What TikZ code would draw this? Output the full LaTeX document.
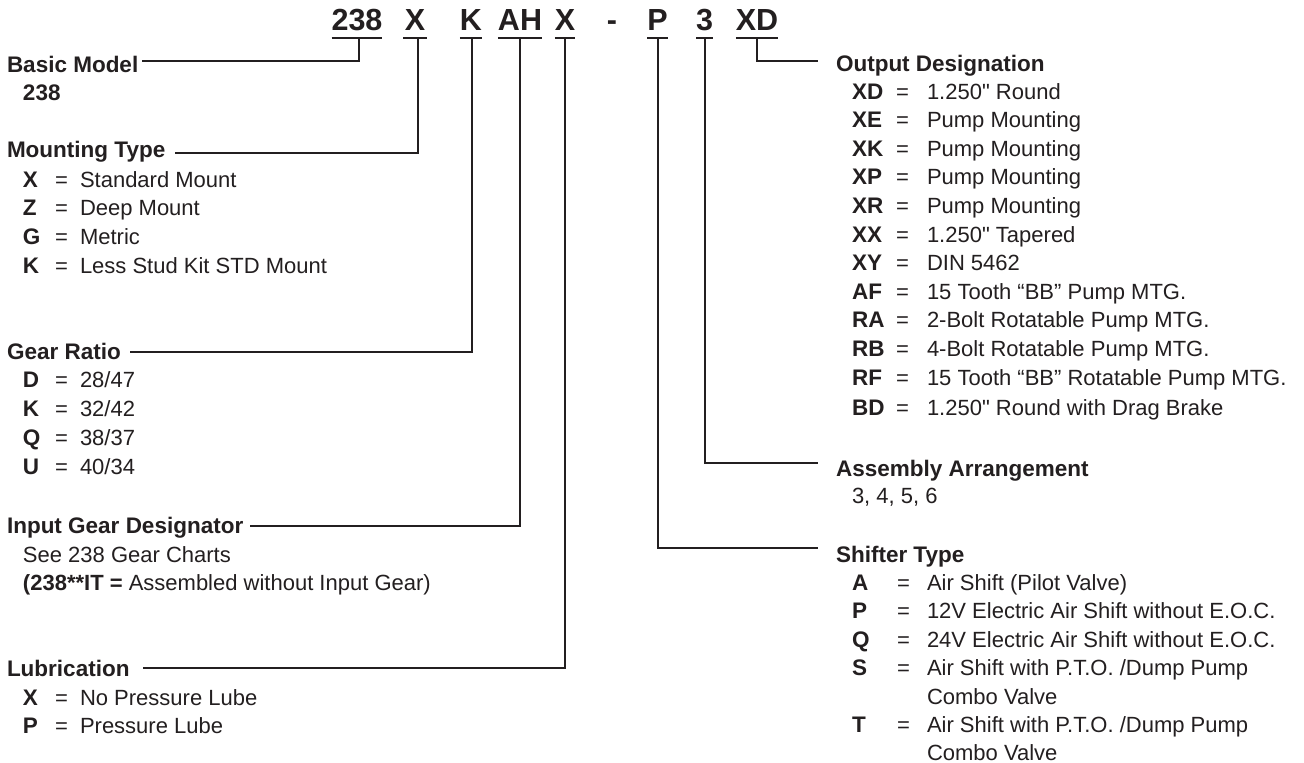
\documentclass[tikz,border=0pt]{standalone}
\usepackage{fontspec}
\newfontfamily\lsans{Liberation Sans}
\definecolor{ink}{HTML}{231F20}
\newcommand\dsf{\lsans\fontsize{22}{26}\selectfont}
\newcommand\hdf{\lsans\fontsize{22.5}{26}\selectfont\bfseries}
\newcommand\cdf{\lsans\fontsize{30.5}{34}\selectfont\bfseries}
\tikzset{
  txt/.style={inner sep=0pt, outer sep=0pt, anchor=base west, text=ink},
  hd/.style={txt, font=\hdf},
  ds/.style={txt, font=\dsf},
  ky/.style={txt, font=\hdf},
  code/.style={inner sep=0pt, outer sep=0pt, anchor=base, text=ink, font=\cdf},
  bar/.style={draw=ink, line width=2.6pt},
  ln/.style={draw=ink, line width=2pt},
}
\newcommand\entry[7]{%
  \node[ky] (#1k) at (#2,#5) {#6};
  \node[ds] (#1e) at (#3,#5) {=};
  \node[ds] (#1d) at (#4,#5) {#7};}
\begin{document}
\begin{tikzpicture}[x=1pt,y=-1pt]
\fill[white] (0,0) rectangle (1304,763);
\useasboundingbox (0,0) rectangle (1304,763);

% ---- code line ----
\node[code, minimum width=50pt] (c238) at (357,30) {238};
\node[code, minimum width=24pt] (cX1) at (415,30) {X};
\node[code, minimum width=22pt] (cK) at (471,30) {K};
\node[code, minimum width=26pt] (cAH) at (520,30) {AH};
\node[code, minimum width=20pt] (cX2) at (565,30) {X};
\node[code] (cdash) at (612,30) {-};
\node[code, minimum width=19pt] (cP) at (657.5,30) {P};
\node[code, minimum width=15pt] (c3) at (704.5,30) {3};
\node[code, minimum width=40pt] (cXD) at (757,30) {XD};

\foreach \n in {c238,cX1,cK,cAH,cX2,cP,c3,cXD}
  \draw[bar] (\n.south west |- 0,38) -- (\n.south east |- 0,38);

% ---- left column ----
\node[hd] (bm) at (7,72) {Basic Model};
\node[hd] (bm1) at (23,100) {238};

\node[hd] (mt) at (7,157) {Mounting Type};
\entry{mtX}{23}{55}{80}{187}{X}{Standard Mount}
\entry{mtZ}{23}{55}{80}{215.5}{Z}{Deep Mount}
\entry{mtG}{23}{55}{80}{244}{G}{Metric}
\entry{mtK}{23}{55}{80}{273}{K}{Less Stud Kit STD Mount}

\node[hd] (gr) at (7,359) {Gear Ratio};
\entry{grD}{23}{55}{80}{387.5}{D}{28/47}
\entry{grK}{23}{55}{80}{416.5}{K}{32/42}
\entry{grQ}{23}{55}{80}{445.5}{Q}{38/37}
\entry{grU}{23}{55}{80}{474}{U}{40/34}

\node[hd] (ig) at (7,533) {Input Gear Designator};
\node[ds] (ig1) at (23,562) {See 238 Gear Charts};
\node[ds] (ig2) at (23,590) {{\bfseries (238**IT =} Assembled without Input Gear)};

\node[hd] (lu) at (7,676) {Lubrication};
\entry{luX}{23}{55}{80}{705}{X}{No Pressure Lube}
\entry{luP}{23}{55}{80}{733}{P}{Pressure Lube}

% ---- right column ----
\node[hd] (od) at (836,71) {Output Designation};
\entry{oXD}{852}{896}{927}{99}{XD}{1.250" Round}
\entry{oXE}{852}{896}{927}{127.6}{XE}{Pump Mounting}
\entry{oXK}{852}{896}{927}{156.2}{XK}{Pump Mounting}
\entry{oXP}{852}{896}{927}{184.8}{XP}{Pump Mounting}
\entry{oXR}{852}{896}{927}{213.4}{XR}{Pump Mounting}
\entry{oXX}{852}{896}{927}{242}{XX}{1.250" Tapered}
\entry{oXY}{852}{896}{927}{270.6}{XY}{DIN 5462}
\entry{oAF}{852}{896}{927}{299.2}{AF}{15 Tooth “BB” Pump MTG.}
\entry{oRA}{852}{896}{927}{327.8}{RA}{2-Bolt Rotatable Pump MTG.}
\entry{oRB}{852}{896}{927}{356.4}{RB}{4-Bolt Rotatable Pump MTG.}
\entry{oRF}{852}{896}{927}{385}{RF}{15 Tooth “BB” Rotatable Pump MTG.}
\entry{oBD}{852}{896}{927}{415}{BD}{1.250" Round with Drag Brake}

\node[hd] (aa) at (836,476) {Assembly Arrangement};
\node[ds] (aa1) at (852,503) {3, 4, 5, 6};

\node[hd] (st) at (836,562) {Shifter Type};
\entry{stA}{852}{897}{927}{590}{A}{Air Shift (Pilot Valve)}
\entry{stP}{852}{897}{927}{618.5}{P}{12V Electric Air Shift without E.O.C.}
\entry{stQ}{852}{897}{927}{647}{Q}{24V Electric Air Shift without E.O.C.}
\entry{stS}{852}{897}{927}{675.5}{S}{Air Shift with P.T.O. /Dump Pump}
\node[ds] (stS2) at (927,704) {Combo Valve};
\entry{stT}{852}{897}{927}{732}{T}{Air Shift with P.T.O. /Dump Pump}
\node[ds] (stT2) at (927,760) {Combo Valve};

% ---- connector end points ----
\coordinate (bmL) at (142,61);
\coordinate (mtL) at (175,153);
\coordinate (grL) at (130,352);
\coordinate (igL) at (250,526);
\coordinate (luL) at (143,668);
\coordinate (odL) at (818,61);
\coordinate (aaL) at (818,463);
\coordinate (stL) at (818,548);

\draw[ln] ([xshift=2pt]c238.south |- 0,38) |- (bmL);
\draw[ln] ([xshift=3pt]cX1.south |- 0,38) |- (mtL);
\draw[ln] ([xshift=1pt]cK.south |- 0,38) |- (grL);
\draw[ln] (cAH.south |- 0,38) |- (igL);
\draw[ln] (cX2.south |- 0,38) |- (luL);
\draw[ln] (cP.south |- 0,38) |- (stL);
\draw[ln] (c3.south |- 0,38) |- (aaL);
\draw[ln] (cXD.south |- 0,38) |- (odL);
\end{tikzpicture}
\end{document}
